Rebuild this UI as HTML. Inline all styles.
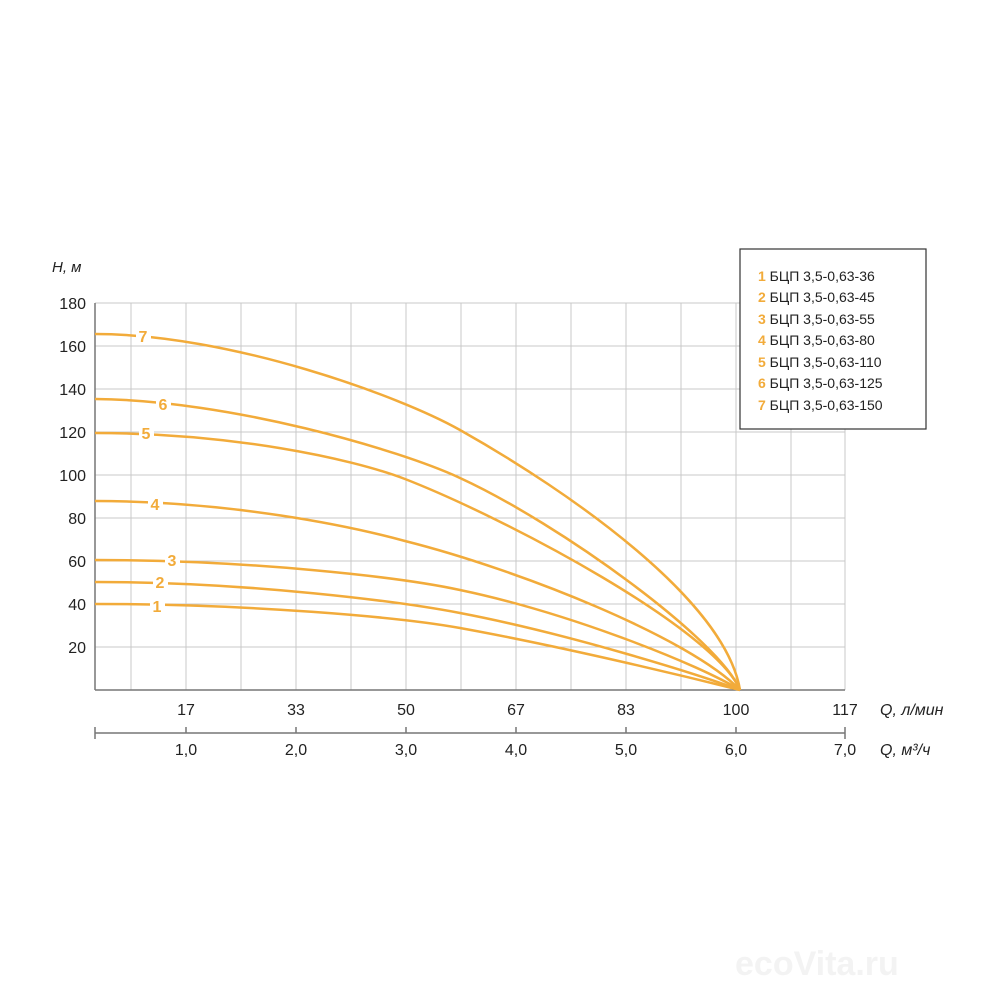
<!DOCTYPE html><html><head><meta charset="utf-8"><style>body{margin:0;background:#fff}svg{display:block}text{font-family:"Liberation Sans",sans-serif}</style></head><body>
<svg width="1000" height="1000" viewBox="0 0 1000 1000">
<g stroke="#c8c8c8" stroke-width="1">
<line x1="131" y1="303" x2="131" y2="690"/><line x1="186" y1="303" x2="186" y2="690"/><line x1="241" y1="303" x2="241" y2="690"/><line x1="296" y1="303" x2="296" y2="690"/><line x1="351" y1="303" x2="351" y2="690"/><line x1="406" y1="303" x2="406" y2="690"/><line x1="461" y1="303" x2="461" y2="690"/><line x1="516" y1="303" x2="516" y2="690"/><line x1="571" y1="303" x2="571" y2="690"/><line x1="626" y1="303" x2="626" y2="690"/><line x1="681" y1="303" x2="681" y2="690"/><line x1="736" y1="303" x2="736" y2="690"/><line x1="791" y1="303" x2="791" y2="690"/><line x1="845" y1="303" x2="845" y2="690"/>
<line x1="95" y1="303" x2="845" y2="303"/><line x1="95" y1="346" x2="845" y2="346"/><line x1="95" y1="389" x2="845" y2="389"/><line x1="95" y1="432" x2="845" y2="432"/><line x1="95" y1="475" x2="845" y2="475"/><line x1="95" y1="518" x2="845" y2="518"/><line x1="95" y1="561" x2="845" y2="561"/><line x1="95" y1="604" x2="845" y2="604"/><line x1="95" y1="647" x2="845" y2="647"/>
</g>
<g stroke="#777" stroke-width="1.5" fill="none">
<line x1="95" y1="303" x2="95" y2="690"/><line x1="95" y1="690" x2="845" y2="690"/>
<line x1="95" y1="733" x2="845" y2="733"/>
<path d="M95 727V739M186 727V733M296 727V733M406 727V733M516 727V733M626 727V733M736 727V733M845 727V739"/>
</g>
<g fill="#222" font-size="16">
<text x="52" y="272" font-style="italic" font-size="15">H, м</text>
<g text-anchor="end"><text x="86" y="309">180</text><text x="86" y="352">160</text><text x="86" y="395">140</text><text x="86" y="438">120</text><text x="86" y="481">100</text><text x="86" y="524">80</text><text x="86" y="567">60</text><text x="86" y="610">40</text><text x="86" y="653">20</text></g>
<g text-anchor="middle"><text x="186" y="715">17</text><text x="296" y="715">33</text><text x="406" y="715">50</text><text x="516" y="715">67</text><text x="626" y="715">83</text><text x="736" y="715">100</text><text x="845" y="715">117</text>
<text x="186" y="755">1,0</text><text x="296" y="755">2,0</text><text x="406" y="755">3,0</text><text x="516" y="755">4,0</text><text x="626" y="755">5,0</text><text x="736" y="755">6,0</text><text x="845" y="755">7,0</text></g>
<text x="880" y="715" font-style="italic">Q, л/мин</text><text x="880" y="755" font-style="italic">Q, м³/ч</text>
</g>
<g stroke="#f2ab3a" stroke-width="2.5" fill="none">
<path d="M95,604 C250,604 400,617 460,628 C570,648 700,680 740,690"/>
<path d="M95,582 C250,582 400,601.6 460,613 C570,634 700,675 740,690"/>
<path d="M95,560 C250,560 400,577 460,590 C570,613 700,665 740,690"/>
<path d="M95,501 C230,501 350,526 405,541 C520,570 690,638 740,690"/>
<path d="M95,433 C230,433 350,458 405,479 C510,520 715,630 740,690"/>
<path d="M95,399 C230,400 400,450 460,478 C560,524 720,640 740,690"/>
<path d="M95,334 C230,334 400,396 460,430 C570,492 725,600 740,690"/>
</g>
<g fill="#f2ab3a" font-size="16" font-weight="bold" text-anchor="middle">
<rect x="136" y="326" width="15" height="18" fill="#fff"/><text x="143" y="342">7</text>
<rect x="156" y="395" width="15" height="18" fill="#fff"/><text x="163" y="410">6</text>
<rect x="139" y="424" width="15" height="18" fill="#fff"/><text x="146" y="439">5</text>
<rect x="148" y="495" width="15" height="18" fill="#fff"/><text x="155" y="510">4</text>
<rect x="165" y="551" width="15" height="18" fill="#fff"/><text x="172" y="566">3</text>
<rect x="153" y="573" width="15" height="18" fill="#fff"/><text x="160" y="588">2</text>
<rect x="150" y="597" width="15" height="18" fill="#fff"/><text x="157" y="612">1</text>
</g>
<rect x="740" y="249" width="186" height="180" fill="#fff" stroke="#333" stroke-width="1.2"/>
<g font-size="14" fill="#222">
<text x="758" y="281"><tspan fill="#f2ab3a" font-weight="bold">1</tspan> БЦП 3,5-0,63-36</text>
<text x="758" y="302"><tspan fill="#f2ab3a" font-weight="bold">2</tspan> БЦП 3,5-0,63-45</text>
<text x="758" y="324"><tspan fill="#f2ab3a" font-weight="bold">3</tspan> БЦП 3,5-0,63-55</text>
<text x="758" y="345"><tspan fill="#f2ab3a" font-weight="bold">4</tspan> БЦП 3,5-0,63-80</text>
<text x="758" y="367"><tspan fill="#f2ab3a" font-weight="bold">5</tspan> БЦП 3,5-0,63-110</text>
<text x="758" y="388"><tspan fill="#f2ab3a" font-weight="bold">6</tspan> БЦП 3,5-0,63-125</text>
<text x="758" y="410"><tspan fill="#f2ab3a" font-weight="bold">7</tspan> БЦП 3,5-0,63-150</text>
</g>
<text x="735" y="975" font-size="34" font-weight="bold" fill="#f3f3f3">ecoVita.ru</text>
</svg></body></html>
